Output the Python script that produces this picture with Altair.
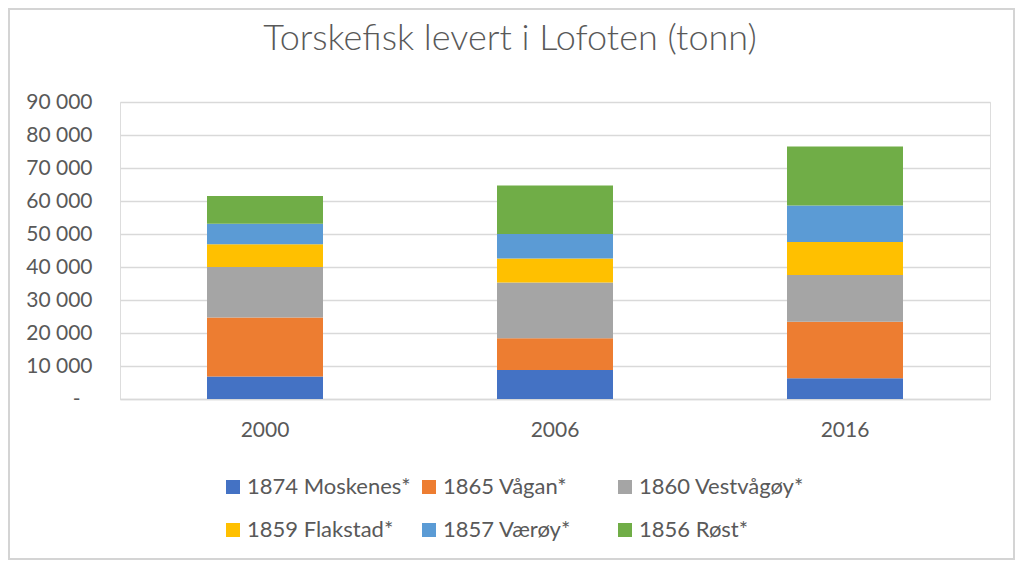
import altair as alt
import pandas as pd

years = ["2000", "2006", "2016"]
series = ["1874 Moskenes*", "1865 Vågan*", "1860 Vestvågøy*",
          "1859 Flakstad*", "1857 Værøy*", "1856 Røst*"]
colors = ["#4472C4", "#ED7D31", "#A5A5A5", "#FFC000", "#5B9BD5", "#70AD47"]

moskenes = [6800, 8800, 6300]
vagan = [17900, 9600, 17100]
vestvagoy = [15300, 16900, 14200]
flakstad = [6900, 7300, 10000]
vaeroy = [6200, 7400, 11000]
rost = [8400, 14700, 17900]

y_ticks = [0, 10000, 20000, 30000, 40000, 50000, 60000, 70000, 80000, 90000]

values = [moskenes, vagan, vestvagoy, flakstad, vaeroy, rost]
rows = []
for i, (name, vals) in enumerate(zip(series, values)):
    for yr, v in zip(years, vals):
        rows.append({"year": yr, "serie": name, "value": v, "idx": i})
df = pd.DataFrame(rows)

FONT = "Lato"
GREY = "#595959"

bars = alt.Chart(df).mark_bar().encode(
    x=alt.X("year:N", sort=years,
            scale=alt.Scale(paddingInner=0.6, paddingOuter=0.3),
            axis=alt.Axis(title=None, labelAngle=0, ticks=False,
                          domainColor="#d9d9d9", domainWidth=1.3,
                          labelPadding=20, labelFontSize=21,
                          labelColor=GREY, labelFont=FONT, grid=False)),
    y=alt.Y("value:Q", stack="zero",
            scale=alt.Scale(domain=[0, 90000], nice=False),
            axis=alt.Axis(title=None, values=y_ticks, ticks=False, domain=False,
                          labelPadding={"condition": {"test": "datum.value == 0", "value": 40}, "value": 28},
                          labelFontSize=21, labelColor=GREY,
                          labelFont=FONT, gridColor="#d9d9d9", gridWidth=1.3,
                          labelExpr="datum.value == 0 ? '-' : replace(format(datum.value, ','), ',', ' ')")),
    color=alt.Color("serie:N",
                    scale=alt.Scale(domain=series, range=colors),
                    legend=alt.Legend(title=None, orient="none", legendX=102,
                                      legendY=374, columns=3, direction="horizontal",
                                      gridAlign="all",
                                      columnPadding=5, rowPadding=21,
                                      symbolType="square", symbolSize=196,
                                      symbolStrokeWidth=0, labelFontSize=22,
                                      labelColor=GREY, labelFont=FONT,
                                      labelOffset=3, labelLimit=400)),
    order=alt.Order("idx:Q", sort="ascending"),
)

border = alt.Chart(pd.DataFrame({"a": [0]})).mark_rect(
    fill="transparent", stroke="#d4d4d4", strokeWidth=2
).encode(
    x=alt.value(-111), x2=alt.value(894), y=alt.value(-93), y2=alt.value(457)
)

chart = alt.layer(bars, border).properties(
    width=870, height=297,
    autosize=alt.AutoSizeParams(type="none"),
    padding={"left": 112, "top": 94, "right": 25, "bottom": 161},
    title=alt.TitleParams("Torskefisk levert i Lofoten (tonn)", fontSize=36,
                          font=FONT, fontWeight=300, color=GREY,
                          anchor="middle", dx=-45, offset=0, dy=77.7,
                          baseline="alphabetic"),
).configure_view(stroke=None).configure(background="white")

chart.save("out.html", embed_options={"renderer": "svg", "actions": False})
